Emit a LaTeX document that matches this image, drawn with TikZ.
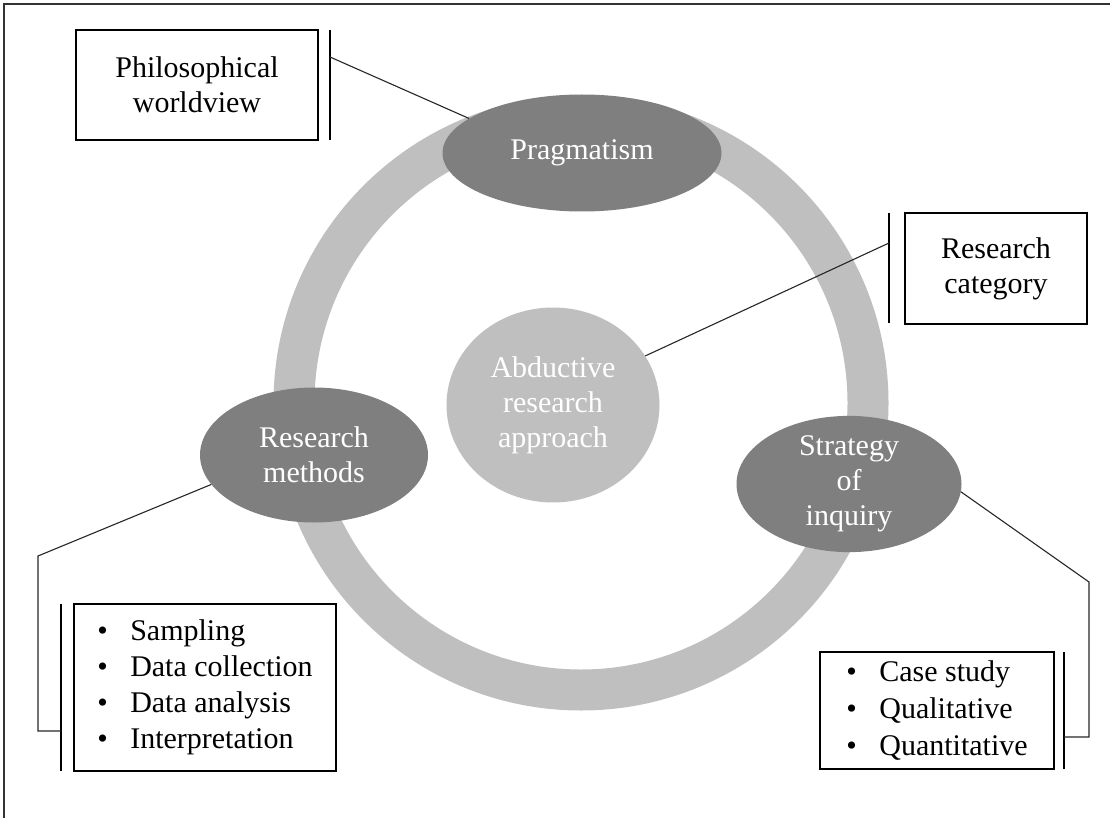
\documentclass[tikz,border=0pt]{standalone}
\usepackage{fontspec}
\setmainfont{Liberation Serif}
\usetikzlibrary{shapes.geometric}
\definecolor{darkfill}{HTML}{7F7F7F}
\definecolor{lightfill}{HTML}{BFBFBF}
\tikzset{
  txt/.style={font=\fontsize{30}{35}\selectfont},
  darkell/.style={ellipse, fill=darkfill, draw=none, inner sep=0pt, text=white, align=center, txt},
  lightell/.style={ellipse, fill=lightfill, draw=none, inner sep=0pt, text=white, align=center, txt},
  labelbox/.style={draw=black, line width=1.2pt, inner sep=0pt, align=center, txt, fill=white},
  listbox/.style={draw=black, line width=1.2pt, inner sep=0pt, align=left, txt, fill=white},
  bracket/.style={draw=black, line width=1.5pt},
  link/.style={draw=black!85, line width=1.1pt},
  frame/.style={draw=black!80, line width=1.5pt}
}
\newcommand{\bul}{\makebox[33pt][l]{\textbullet}}
\begin{document}
\begin{tikzpicture}[x=1pt,y=-1pt]
\useasboundingbox (0,0) rectangle (1110,818);
\draw[frame] (4,818) -- (4,4) -- (1110,4);

% ring
\draw[line width=41pt, lightfill] (581,403) circle[radius=287pt];

% ellipses
\node[lightell, minimum width=213pt, minimum height=195pt] (abd) at (553,405) {Abductive\\research\\approach};
\node[darkell, minimum width=279pt, minimum height=117pt] (prag) at (582,153) {Pragmatism};
\node[darkell, minimum width=228pt, minimum height=135pt] (meth) at (314,455) {Research\\methods};
\node[darkell, minimum width=225pt, minimum height=132pt] (strat) at (849,484) {Strategy\\of\\inquiry};

% boxes
\node[labelbox, minimum width=242pt, minimum height=110pt] (philo) at (197,85) {Philosophical\\worldview};
\node[labelbox, minimum width=182pt, minimum height=111pt] (cat) at (996,268.5) {Research\\category};
\node[listbox, minimum width=262pt, minimum height=167pt, font=\fontsize{30}{36}\selectfont] (methlist) at (205,687.5)
  {\bul Sampling\\\bul Data collection\\\bul Data analysis\\\bul Interpretation};
\node[listbox, minimum width=234pt, minimum height=117pt, font=\fontsize{30}{37}\selectfont] (stratlist) at (937,710.5)
  {\bul Case study\\\bul Qualitative\\\bul Quantitative};

% brackets
\coordinate (b1t) at (330,30);  \coordinate (b1b) at (330,140);
\coordinate (b2t) at (889,213); \coordinate (b2b) at (889,323);
\coordinate (b3t) at (61,604);  \coordinate (b3b) at (61,771);
\coordinate (b4t) at (1064,652); \coordinate (b4b) at (1064,769);
\draw[bracket] (b1t) -- (b1b);
\draw[bracket] (b2t) -- (b2b);
\draw[bracket] (b3t) -- (b3b);
\draw[bracket] (b4t) -- (b4b);

% connectors
\coordinate (c1) at (330,57);
\coordinate (c2) at (889,243);
\coordinate (c3a) at (38,556);
\coordinate (c3b) at (38,731);
\coordinate (c3) at (61,731);
\coordinate (c4a) at (1089,582);
\coordinate (c4b) at (1089,737);
\coordinate (c4) at (1064,737);
\draw[link] (c1) -- (prag.163);
\draw[link] (c2) -- (abd.28);
\draw[link] (meth.196) -- (c3a) -- (c3b) -- (c3);
\draw[link] (strat.-4) -- (c4a) -- (c4b) -- (c4);
\end{tikzpicture}
\end{document}
